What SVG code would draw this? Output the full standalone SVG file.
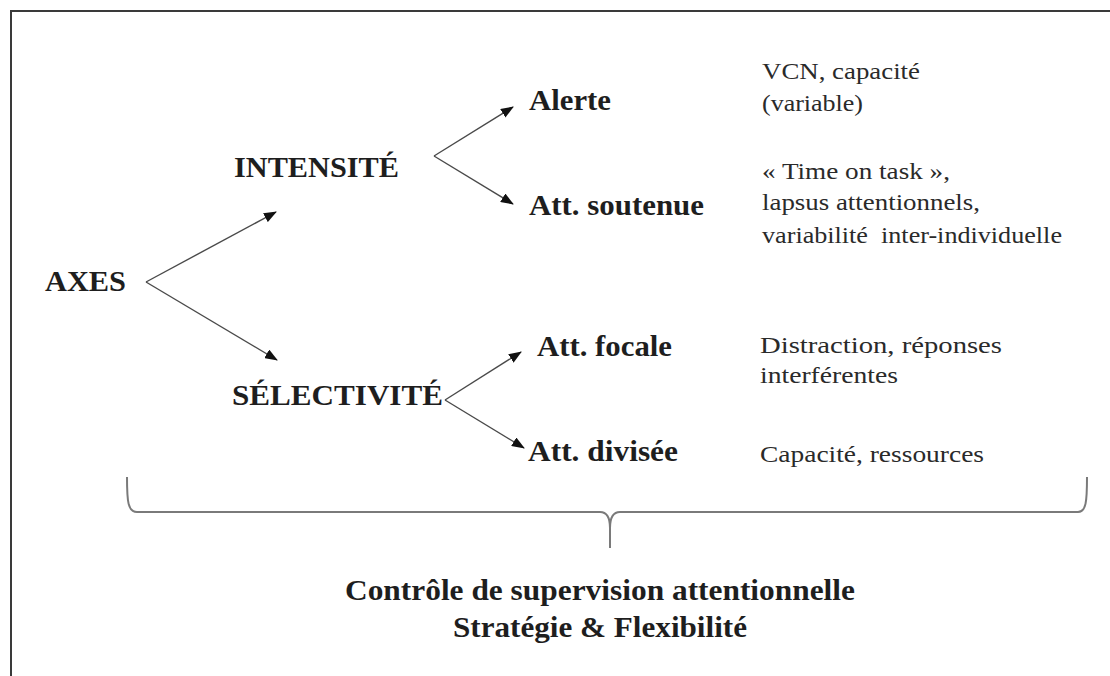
<svg xmlns="http://www.w3.org/2000/svg" width="1110" height="676" viewBox="0 0 1110 676">
<style>
.b{font-family:"Liberation Serif","Times New Roman",serif;font-weight:bold;font-size:29.5px;fill:#1e1e1e}
.r{font-family:"Liberation Serif","Times New Roman",serif;font-size:24px;fill:#2a2a2a}
.c{stroke:#4a4a4a;stroke-width:1.4;fill:none}
</style>
<defs>
<marker id="ah" viewBox="0 0 13 10" refX="12" refY="5" markerWidth="13" markerHeight="10" markerUnits="userSpaceOnUse" orient="auto">
<path d="M0,0 L13,5 L0,10 Z" fill="#111"/>
</marker>
</defs>
<rect width="1110" height="676" fill="#fff"/>
<g id="frame" stroke="#3a3a3a" stroke-width="2" fill="none">
<path d="M11,676 L11,11 L1110,11"/>
</g>
<g id="connectors" class="c">
<path d="M146,282 L276,212" marker-end="url(#ah)"/>
<path d="M146,282 L277,360" marker-end="url(#ah)"/>
<path d="M434,156 L513,107" marker-end="url(#ah)"/>
<path d="M434,156 L513,204" marker-end="url(#ah)"/>
<path d="M445,400 L521,352" marker-end="url(#ah)"/>
<path d="M445,400 L524,448" marker-end="url(#ah)"/>
</g>
<g id="brace" stroke="#7a7a7a" stroke-width="2" fill="none">
<path d="M127,477 C127,502 128,512 137,512 L600,512 Q610,512 610,528 L610,548 M610,528 Q610,512 620,512 L1078,512 C1086,512 1087,502 1087,477"/>
</g>
<g id="n-axes"><text class="b" x="45" y="291" textLength="81" lengthAdjust="spacingAndGlyphs">AXES</text></g>
<g id="n-intensite"><text class="b" x="234" y="177" textLength="165" lengthAdjust="spacingAndGlyphs">INTENSITÉ</text></g>
<g id="n-selectivite"><text class="b" x="232" y="405" textLength="211" lengthAdjust="spacingAndGlyphs">SÉLECTIVITÉ</text></g>
<g id="n-alerte"><text class="b" x="529" y="110" textLength="82" lengthAdjust="spacingAndGlyphs">Alerte</text></g>
<g id="n-soutenue"><text class="b" x="529" y="215" textLength="175" lengthAdjust="spacingAndGlyphs">Att. soutenue</text></g>
<g id="n-focale"><text class="b" x="537" y="356" textLength="135" lengthAdjust="spacingAndGlyphs">Att. focale</text></g>
<g id="n-divisee"><text class="b" x="528" y="461" textLength="150" lengthAdjust="spacingAndGlyphs">Att. divisée</text></g>
<g id="d-alerte">
<text class="r" x="762" y="79" textLength="158" lengthAdjust="spacingAndGlyphs">VCN, capacité</text>
<text class="r" x="762" y="111" textLength="101" lengthAdjust="spacingAndGlyphs">(variable)</text>
</g>
<g id="d-soutenue">
<text class="r" x="762" y="179" textLength="188" lengthAdjust="spacingAndGlyphs">« Time on task »,</text>
<text class="r" x="762" y="210" textLength="218" lengthAdjust="spacingAndGlyphs">lapsus attentionnels,</text>
<text class="r" x="762" y="243" textLength="300" lengthAdjust="spacingAndGlyphs" xml:space="preserve">variabilité  inter-individuelle</text>
</g>
<g id="d-focale">
<text class="r" x="760" y="353" textLength="242" lengthAdjust="spacingAndGlyphs">Distraction, réponses</text>
<text class="r" x="760" y="383" textLength="138" lengthAdjust="spacingAndGlyphs">interférentes</text>
</g>
<g id="d-divisee">
<text class="r" x="760" y="462" textLength="224" lengthAdjust="spacingAndGlyphs">Capacité, ressources</text>
</g>
<g id="n-controle">
<text class="b" x="345" y="600" textLength="510" lengthAdjust="spacingAndGlyphs">Contrôle de supervision attentionnelle</text>
<text class="b" x="453" y="637" textLength="294" lengthAdjust="spacingAndGlyphs">Stratégie &amp; Flexibilité</text>
</g>
</svg>
